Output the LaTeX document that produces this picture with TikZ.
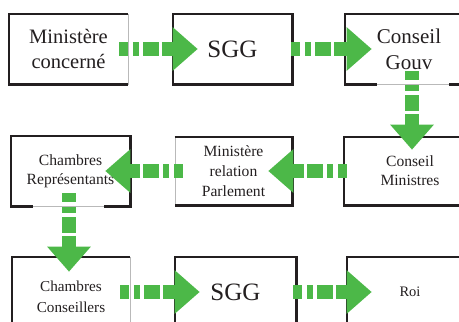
\documentclass[tikz,border=0pt]{standalone}
\usepackage{fontspec}
\setmainfont{Liberation Serif}
\usetikzlibrary{arrows.meta}
\definecolor{flowgreen}{HTML}{4CB848}
\definecolor{ink}{HTML}{231F20}
\begin{document}
\begin{tikzpicture}[x=1pt,y=-1pt,
  box/.style={draw=gray!55, line width=0.6pt, minimum width=#1, minimum height=70pt, inner sep=0pt, align=center, text=ink},
  box/.default=119pt,
  rim/.style={draw=ink, line width=2.4pt, line join=miter},
  flow/.style={draw=flowgreen, line width=13.5pt,
    dash pattern=on 9pt off 4.5pt on 6pt off 4.5pt on 15.5pt off 3pt on 80pt,
    -{Triangle[length=25pt,width=42pt]}},
]
\useasboundingbox (0,0) rectangle (459,322);
% row 1
\node[box=119pt, font=\fontsize{20.5}{25}\selectfont] (b1) at (68.5,49) {Ministère\\concerné};
\node[box=119pt, font=\fontsize{25}{28}\selectfont] (b2) at (232.5,49) {SGG};
\node[box=128pt, font=\fontsize{21}{26}\selectfont] (b3) at (409,49) {Conseil\\Gouv};
% row 2
\node[box=119pt, font=\fontsize{15.6}{19}\selectfont] (b4) at (70.5,171) {Chambres\\Représentants};
\node[box=117pt, minimum height=68pt, font=\fontsize{15.6}{20}\selectfont] (b5) at (233.5,171) {Ministère\\relation\\Parlement};
\node[box=132pt, minimum height=68pt, font=\fontsize{15.6}{19}\selectfont] (b6) at (410,171) {Conseil\\Ministres};
% row 3
\node[box=118pt, minimum height=80pt, font=\fontsize{15.2}{21}\selectfont] (b7) at (71,297) {Chambres\\Conseillers};
\node[box=121pt, font=\fontsize{25}{28}\selectfont] (b8) at (235.5,292) {SGG};
\node[box=126pt, font=\fontsize{14.5}{18}\selectfont] (b9) at (410,292) {Roi};
% dark rims
\draw[rim] (b1.north east) -- (b1.north west) -- (b1.south west) -- (b1.south east);
\draw[rim] (b2.north west) rectangle (b2.south east);
\draw[rim] ([xshift=32pt]b3.south west) -- (b3.south west) -- (b3.north west) -- (b3.north east) -- (b3.south east) -- ([xshift=104pt]b3.south west);
\draw[rim] ([xshift=22pt]b4.south west) -- (b4.south west) -- (b4.north west) -- (b4.north east) -- (b4.south east) -- ([xshift=-26pt]b4.south east);
\draw[rim] (b5.north west) -- (b5.north east) -- (b5.south east) -- (b5.south west);
\draw[rim] (b6.north west) rectangle (b6.south east);
\draw[rim] (b7.north east) -- (b7.north west) -- (b7.south west) -- (b7.south east);
\draw[rim] (b8.north west) rectangle (b8.south east);
\draw[rim] (b9.north west) rectangle (b9.south east);
% arrows
\draw[flow] ([xshift=-9pt]b1.east) -- ([xshift=25pt]b2.west);
\draw[flow] ([xshift=-1pt]b2.east) -- ([xshift=27pt]b3.west);
\draw[flow] ([xshift=3pt,yshift=13pt]b3.south) -- ([xshift=2pt,yshift=-13pt]b6.north);
\draw[flow] ([xshift=3pt]b6.west) -- ([xshift=-24pt]b5.east);
\draw[flow] ([xshift=8pt]b5.west) -- ([xshift=-25pt]b4.east);
\draw[flow] ([xshift=-1.5pt,yshift=13pt]b4.south) -- ([xshift=-2pt,yshift=-15pt]b7.north);
\draw[flow] ([xshift=-10pt,yshift=5pt]b7.east) -- ([xshift=25pt]b8.west);
\draw[flow] ([xshift=-3pt]b8.east) -- ([xshift=25pt]b9.west);
\end{tikzpicture}
\end{document}
